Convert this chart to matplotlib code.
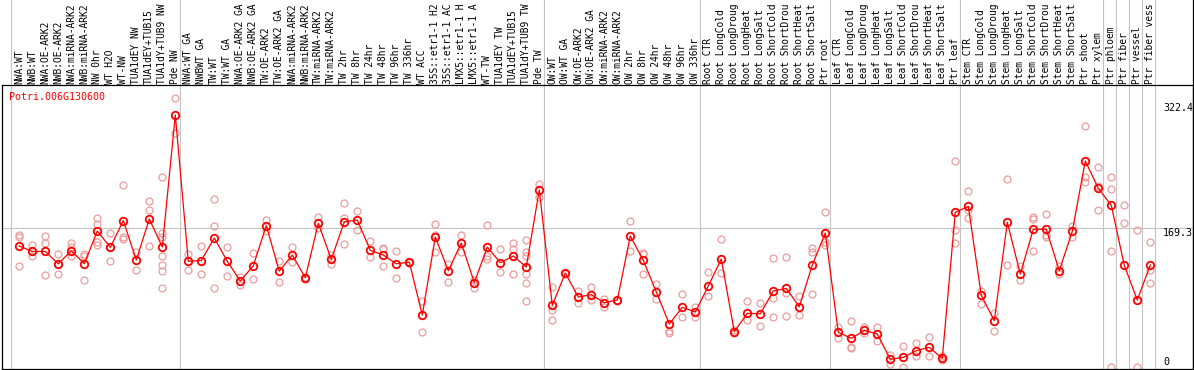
import numpy as np
import matplotlib
matplotlib.use("Agg")
import matplotlib.pyplot as plt
from matplotlib.lines import Line2D
from matplotlib.transforms import blended_transform_factory

gene = "Potri.006G130600"

samples = [
    "NWA:WT", "NWB:WT", "NWA:OE-ARK2", "NWB:OE-ARK2", "NWA:miRNA-ARK2",
    "NWB:miRNA-ARK2", "NW 0hr", "WT H2O", "WT-NW", "TUA1dEY NW",
    "TUA1dEY+TUB15", "TUA1dY+TUB9 NW", "Pde NW",
    "NWA:WT GA", "NWBWT GA", "TW:WT", "TW:WT GA", "NWA:OE-ARK2 GA",
    "NWB:OE-ARK2 GA", "TW:OE-ARK2", "TW:OE-ARK2 GA", "NWA:miRNA-ARK2",
    "NWB:miRNA-ARK2", "TW:miRNA-ARK2", "TW:miRNA-ARK2", "TW 2hr", "TW 8hr",
    "TW 24hr", "TW 48hr", "TW 96hr", "TW 336hr", "WT ACC",
    "35S::etr1-1 H2O", "35S::etr1-1 ACC", "LMX5::etr1-1 H2O",
    "LMX5::etr1-1 ACC", "WT-TW", "TUA1dEY TW", "TUA1dEY+TUB15",
    "TUA1dY+TUB9 TW", "Pde TW",
    "OW:WT", "OW:WT GA", "OW:OE-ARK2", "OW:OE-ARK2 GA", "OW:miRNA-ARK2",
    "OW:miRNA-ARK2", "OW 2hr", "OW 8hr", "OW 24hr", "OW 48hr", "OW 96hr",
    "OW 336hr",
    "Root CTR", "Root LongCold", "Root LongDrought", "Root LongHeat",
    "Root LongSalt", "Root ShortCold", "Root ShortDrought", "Root ShortHeat",
    "Root ShortSalt", "Ptr root",
    "Leaf CTR", "Leaf LongCold", "Leaf LongDrought", "Leaf LongHeat",
    "Leaf LongSalt", "Leaf ShortCold", "Leaf ShortDrought", "Leaf ShortHeat",
    "Leaf ShortSalt", "Ptr leaf",
    "Stem CTR", "Stem LongCold", "Stem LongDrought", "Stem LongHeat",
    "Stem LongSalt", "Stem ShortCold", "Stem ShortDrought", "Stem ShortHeat",
    "Stem ShortSalt", "Ptr shoot", "Ptr xylem",
    "Ptr phloem", "Ptr fiber", "Ptr vessel", "Ptr fiber vessel",
]

means = [
    147.7, 141, 141, 126, 142, 126, 166, 146, 178.6, 130.6, 180.6, 146.4, 307.4,
    129, 130, 157.4, 129, 105, 123.6, 172.5, 117, 136.7, 109, 175.3, 131.4,
    177, 179.4, 142.4, 136.7, 126, 128, 63.5, 158.7, 117.4, 151.3, 103,
    146.4, 127.3, 135.5, 122, 216,
    75.3, 114.8, 85.5, 88.3, 78.6, 81.8, 159.9, 130.2, 91.6, 52.6, 72.9, 67.2,
    98.9, 131.8, 43.2, 65.6, 65, 92.8, 96, 73.6, 124.5, 163.5,
    42.4, 35.1, 44.8, 40.4, 9.5, 11.9, 20, 24.1, 10.7, 188.7,
    196, 87.5, 56.6, 176.5, 113.5, 168, 168, 117.6, 165.6, 251.3, 218,
    197.3, 124.1, 81.8, 124.6,
]

replicates = [
    [161, 159, 123], [149, 135, 141], [160, 151, 112], [138, 114, 126],
    [151, 135, 146], [138, 135, 106], [182, 175, 152, 149], [164, 129, 146],
    [222, 159, 156], [140, 119], [202.6, 191.6, 148],
    [231.8, 163, 159, 135, 124.5, 117, 96], [327.8, 285.8],
    [138, 119], [148, 113.5], [205, 172, 96], [146, 111], [110, 100],
    [139, 107], [179, 166], [129, 104], [146, 127.8], [110, 107],
    [182.7, 170], [137, 125.4], [199.8, 181.5, 150], [190.4, 167],
    [153.4, 133.9], [145.6, 144, 123.6], [141, 108.3], [128.5, 127],
    [80.6, 42.4], [174, 161, 140.7], [126, 104], [161, 140], [106, 96.8],
    [172.9, 135, 131.8], [144, 115.6], [151.7, 144, 113],
    [155, 140.7, 135, 113, 102, 80.6], [223.3, 207.8],
    [97.7, 69.6, 57.4], [115, 114], [92.8, 77.8], [97.3, 81.5],
    [82.7, 73.6], [82, 81], [177.8, 141.2], [139.5, 138, 113.5],
    [101.3, 83.4], [43.7, 41.2], [89.1, 60.7], [73.6, 60.7],
    [116, 86.7], [156.2, 114.4], [45, 41.5], [80.6, 57.4], [77.8, 50.1],
    [132.7, 83.9, 60.7], [133.9, 90, 62.3], [86.7, 63.2], [145.2, 140, 89],
    [188.8, 152, 148.5],
    [48.5, 35.1], [56.2, 24.9, 23], [49.3, 41], [49.3, 31.5], [14.4, 3.8],
    [25.7, 0], [29, 13.5], [36.3, 13.5], [13.5, 8.7], [251.3, 167.2, 151],
    [214.8, 191.6, 181.5], [93.2, 77], [65.6, 44.4], [229.4, 124.1],
    [123.3, 106.2], [182.7, 181, 141.2], [186.3, 161, 158.3], [123.3, 113.5],
    [172, 159], [294, 232.2, 226.1], [243.7, 220.9, 191.6],
    [232.2, 216.8, 142, 0], [197.3, 175.4], [167.2, 0], [152.2, 118.4, 102.6],
]

# last sample of each group (a grey divider follows it)
group_ends = [12, 40, 52, 62, 72, 83, 84, 85, 86, 87]
tick_values = [322.4, 169.3, 0]
max_chars = 14  # the header only has room for this many characters

W, H = 1194, 370
fig = plt.figure(figsize=(W / 100, H / 100), dpi=100)
ax_l, ax_r, ax_t, ax_b = 2, 1193, 85, 369
ax = fig.add_axes([ax_l / W, (H - ax_b) / H, (ax_r - ax_l) / W, (ax_b - ax_t) / H])

x = np.arange(len(samples))
step = 13.0
x0 = 19.3
ax.set_xlim((ax_l - x0) / step, (ax_r - x0) / step)
ax.set_ylim(-2.3, 344.0)
ax.set_xticks([])
ax.set_yticks([])
for s in ax.spines.values():
    s.set_linewidth(0.9)
    s.set_color("black")

grey = "#c4c4c4"
ext = ax_b / (ax_b - ax_t)
for g in group_ends:
    ax.axvline(g + 0.385, ymin=0, ymax=ext, color=grey, lw=0.8, clip_on=False, zorder=0)
ax.axvline((11 - x0) / step, ymin=0, ymax=ext, color=grey, lw=0.8, clip_on=False, zorder=0)
ax.axhline(169.3, color=grey, lw=0.8, zorder=0)

# right border continues through the header
fig.add_artist(Line2D([ax_r / W, ax_r / W], [(H - ax_b) / H, 1.0],
                      color="black", lw=0.9))

for i, reps in enumerate(replicates):
    ax.plot([i] * len(reps), reps, "o", ls="none", mfc="none", mec="#eb9c9c",
            ms=5, mew=0.9, zorder=2)

ax.plot(x, means, "-", color="red", lw=0.9, zorder=3)
ax.plot(x, means, "o", ls="none", mfc="none", mec="red", ms=5.4, mew=1.3, zorder=4)

mono = "DejaVu Sans Mono"
hdr = blended_transform_factory(ax.transData, ax.transAxes)
for i, name in enumerate(samples):
    ax.text(i, 1.005, name[:max_chars], rotation=90, ha="center", va="bottom",
            fontsize=6.9, family=mono, color="black", transform=hdr,
            clip_on=False)

ax.text((9.3 - ax_l) / (ax_r - ax_l), 1 - (96.7 - ax_t) / (ax_b - ax_t), gene,
        transform=ax.transAxes, ha="left", va="center", fontsize=7.2,
        family=mono, color="red")

tr = blended_transform_factory(ax.transAxes, ax.transData)
xt = (1163 - ax_l) / (ax_r - ax_l)
for v in tick_values:
    ax.text(xt, v, f"{v:g}", transform=tr, ha="left",
            va="bottom" if v == 0 else "top", fontsize=7.2, family=mono,
            color="black")

fig.savefig("out.png", dpi=100)
